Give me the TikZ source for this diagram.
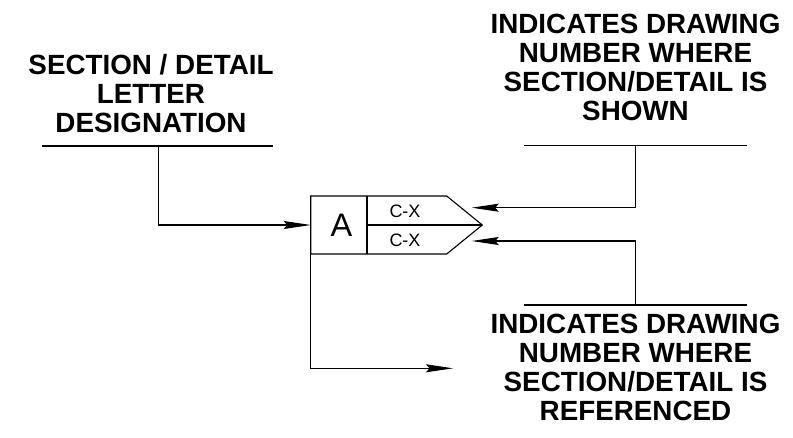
\documentclass[tikz,border=0pt]{standalone}
\usepackage{fontspec}
\setmainfont{Liberation Sans}
\usetikzlibrary{arrows.meta}
\begin{document}
\begin{tikzpicture}[x=1pt,y=-1pt,line width=1.1pt,
  lbl/.style={align=center,inner sep=0pt,anchor=south,font=\bfseries\fontsize{27.8}{29}\selectfont},
  sm/.style={inner sep=0pt,anchor=base,font=\fontsize{18}{20}\selectfont},
  arr/.style={-{Stealth[length=27pt,width=8pt,inset=3.5pt]}}]
\useasboundingbox (0,0) rectangle (793,437);
% labels
\node[lbl] (ldes) at (151,133.5) {SECTION / DETAIL\\LETTER\\DESIGNATION};
\node[lbl] (lshown) at (635.5,121) {INDICATES DRAWING\\NUMBER WHERE\\SECTION/DETAIL IS\\SHOWN};
\node[lbl] (lref) at (635.5,421.5) {INDICATES DRAWING\\NUMBER WHERE\\SECTION/DETAIL IS\\REFERENCED};
% underlines
\coordinate (u1a) at (42,146); \coordinate (u1b) at (273,146); \coordinate (u1v) at (158.3,146);
\coordinate (u2a) at (524,145.7); \coordinate (u2b) at (747,145.7); \coordinate (u2v) at (635.7,145.7);
\coordinate (u3a) at (524,305); \coordinate (u3b) at (747,305); \coordinate (u3v) at (635.7,305);
\draw (u1a) -- (u1b);
\draw (u2a) -- (u2b);
\draw (u3a) -- (u3b);
% symbol
\coordinate (bTL) at (310.7,196);
\coordinate (bML) at (310.7,225);
\coordinate (bBL) at (310.7,254);
\coordinate (dT) at (367,196);
\coordinate (dM) at (367,225);
\coordinate (dB) at (367,254);
\coordinate (sT) at (446.7,196);
\coordinate (tip) at (482.3,225);
\coordinate (sB) at (446.7,254);
\draw (bTL) -- (sT) -- (tip) -- (sB) -- (bBL) -- cycle;
\draw (dT) -- (dB);
\draw (dM) -- (tip);
\node[inner sep=0pt,anchor=base,font=\fontsize{32.5}{34}\selectfont] (A) at (341.5,236) {A};
\node[sm] (cx1) at (405,217.7) {C-X};
\node[sm] (cx2) at (405,246.7) {C-X};
% arrow targets
\coordinate (t1) at (471.7,207.7);
\coordinate (t2) at (471.7,241);
\coordinate (t3) at (453,368.3);
% connectors
\draw[arr] (u1v) |- (bML);
\draw[arr] (u2v) |- (t1);
\draw[arr] (u3v) |- (t2);
\draw[arr] (bBL) |- (t3);
\end{tikzpicture}
\end{document}
